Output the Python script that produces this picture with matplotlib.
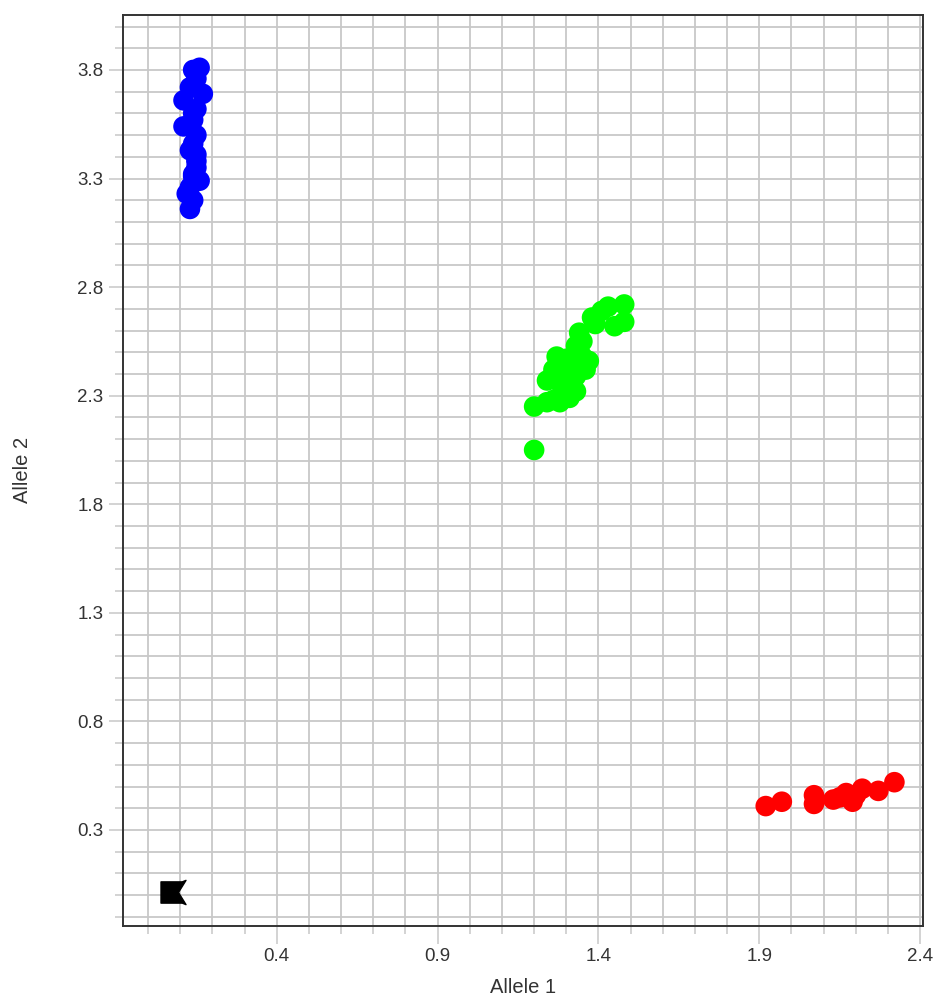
import numpy as np
import matplotlib
matplotlib.use("Agg")
import matplotlib.pyplot as plt
from matplotlib.path import Path
from matplotlib.ticker import FixedLocator, FixedFormatter

# ---- data ----
blue_x = [0.14, 0.16, 0.15, 0.17, 0.11, 0.14, 0.11, 0.15, 0.14, 0.13, 0.15, 0.15, 0.14, 0.16, 0.13, 0.12, 0.14, 0.13,
          0.13, 0.15, 0.14, 0.15, 0.14]
blue_y = [3.80, 3.81, 3.76, 3.69, 3.66, 3.60, 3.54, 3.50, 3.46, 3.43, 3.38, 3.35, 3.32, 3.29, 3.26, 3.23, 3.20, 3.16,
          3.72, 3.62, 3.57, 3.41, 3.31]

green_x = [1.20, 1.20, 1.24, 1.28, 1.31, 1.29, 1.24, 1.27, 1.31, 1.33, 1.36, 1.37,
           1.33, 1.34, 1.30, 1.34, 1.38, 1.43, 1.48, 1.48, 1.45, 1.35, 1.29, 1.32,
           1.26, 1.28, 1.35, 1.39, 1.41, 1.33, 1.26]
green_y = [2.05, 2.25, 2.27, 2.27, 2.29, 2.33, 2.37, 2.48, 2.44, 2.39, 2.42, 2.46,
           2.53, 2.51, 2.47, 2.59, 2.66, 2.71, 2.72, 2.64, 2.62, 2.55, 2.40, 2.35,
           2.42, 2.36, 2.48, 2.63, 2.69, 2.32, 2.28]

red_x = [1.92, 1.97, 2.07, 2.07, 2.13, 2.15, 2.17, 2.19, 2.20, 2.22, 2.27, 2.32]
red_y = [0.41, 0.43, 0.46, 0.42, 0.44, 0.45, 0.47, 0.43, 0.46, 0.49, 0.48, 0.52]

ntc_x = [0.078]
ntc_y = [0.016]

x_major = [0.4, 0.9, 1.4, 1.9, 2.4]
y_major = [0.3, 0.8, 1.3, 1.8, 2.3, 2.8, 3.3, 3.8]
x_labels = ["0.4", "0.9", "1.4", "1.9", "2.4"]
y_labels = ["0.3", "0.8", "1.3", "1.8", "2.3", "2.8", "3.3", "3.8"]

# ---- figure ----
plt.rcParams['font.family'] = ['Liberation Sans', 'DejaVu Sans']
fig = plt.figure(figsize=(9.34, 10.01), dpi=100)
ax = fig.add_axes([0.1314, 0.0752, 0.8572, 0.9098])

ax.set_xlim(-0.079, 2.41)
ax.set_ylim(-0.141, 4.053)

s = 220
ax.scatter(blue_x, blue_y, s=s, c='#0000ff', edgecolors='none', zorder=3)
ax.scatter(green_x, green_y, s=s, c='#00ff00', edgecolors='none', zorder=3)
ax.scatter(red_x, red_y, s=s, c='#ff0000', edgecolors='none', zorder=3)

verts = [(-1, -0.85), (0.7, -0.85), (1, -0.97), (0.4, 0), (1, 0.97), (0.7, 0.85), (-1, 0.85), (-1, -0.85)]
codes = [Path.MOVETO] + [Path.LINETO] * 6 + [Path.CLOSEPOLY]
ntc_marker = Path(verts, codes)
ax.plot(ntc_x, ntc_y, linestyle='none', marker=ntc_marker, markersize=18,
        color='black', zorder=4)

x_minor = np.round(np.arange(-0.1, 2.45, 0.1), 1)
y_minor = np.round(np.arange(-0.1, 4.05, 0.1), 1)
ax.xaxis.set_major_locator(FixedLocator(x_major))
ax.xaxis.set_major_formatter(FixedFormatter(x_labels))
ax.yaxis.set_major_locator(FixedLocator(y_major))
ax.yaxis.set_major_formatter(FixedFormatter(y_labels))
ax.xaxis.set_minor_locator(FixedLocator(x_minor))
ax.yaxis.set_minor_locator(FixedLocator(y_minor))

grid_col = '#c8c8c8'
ax.grid(True, which='both', color=grid_col, linewidth=1.3, zorder=0)
ax.set_axisbelow(True)

ax.tick_params(axis='x', which='major', length=12.7, width=1.1, color=grid_col,
               labelsize=13.5, labelcolor='#333333', pad=3)
ax.tick_params(axis='y', which='major', length=10.4, width=1.1, color=grid_col,
               labelsize=13.5, labelcolor='#333333', pad=3.5)
ax.tick_params(axis='both', which='minor', length=5.8, width=1.1, color=grid_col)

for sp in ax.spines.values():
    sp.set_color('#333333')
    sp.set_linewidth(1.4)
    sp.set_zorder(5)

ax.set_xlabel("Allele 1", fontsize=14.5, color='#333333')
ax.set_ylabel("Allele 2", fontsize=14.5, color='#333333')
ax.xaxis.set_label_coords(0.5, -0.057)
ax.yaxis.set_label_coords(-0.113, 0.5)

fig.savefig("out.png", dpi=100)
